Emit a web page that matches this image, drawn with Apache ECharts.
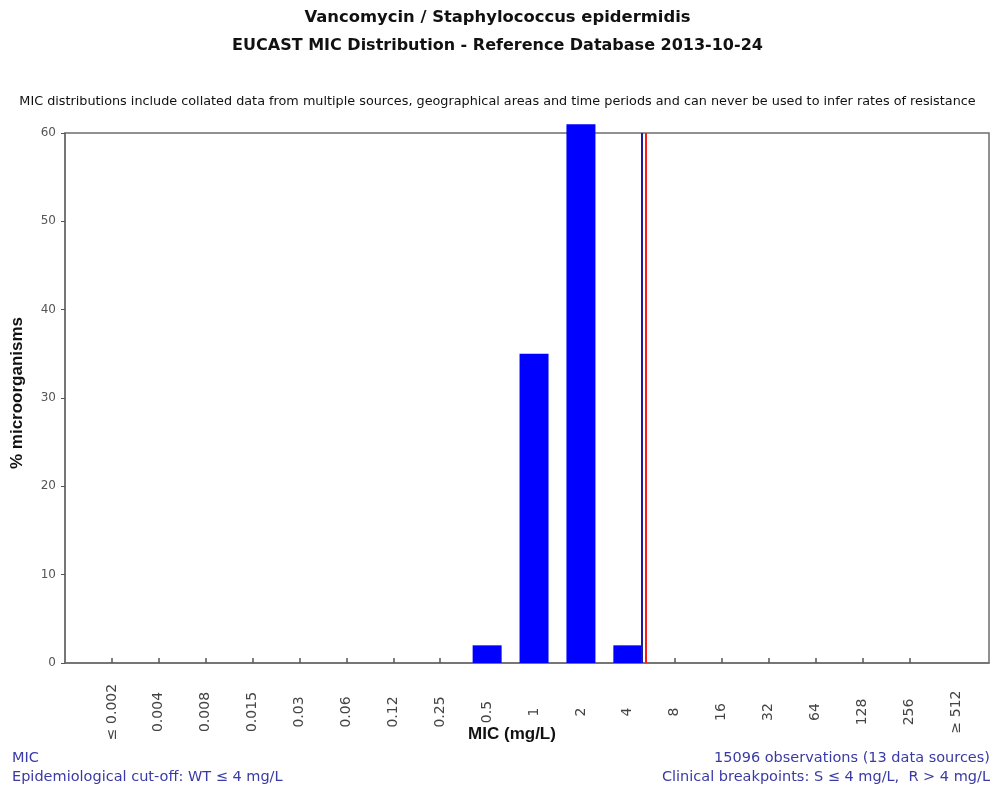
<!DOCTYPE html>
<html>
<head>
<meta charset="utf-8">
<title>Vancomycin / Staphylococcus epidermidis - MIC distribution</title>
<script src="https://cdn.jsdelivr.net/npm/echarts@6/dist/echarts.min.js"></script>
<style>
  html, body { margin: 0; padding: 0; background: #ffffff; }
  #chart { width: 995px; height: 789px; }
</style>
</head>
<body>
<div id="chart"></div>
<script>
// MIC dilution steps (mg/L)
const micLabels = ['≤ 0.002', '0.004', '0.008', '0.015', '0.03', '0.06', '0.12', '0.25', '0.5',
  '1', '2', '4', '8', '16', '32', '64', '128', '256', '≥ 512'];
// % of isolates at each MIC
const pctValues = [0, 0, 0, 0, 0, 0, 0, 0, 2, 35, 61, 2, 0, 0, 0, 0, 0, 0, 0];
// Y axis tick values
const yTicks = [0, 10, 20, 30, 40, 50, 60];
// Cut-off markers, expressed in MIC-step positions
const ecoffPos = 11.3;       // WT ≤ 4 mg/L
const breakpointPos = 11.39; // S ≤ 4 / R > 4 mg/L

const ARIAL = 'Arial, "Liberation Sans", sans-serif';
const WIDE = '"DejaVu Sans", Verdana, sans-serif';
const FOOT_COLOR = '#3a3aa6';
const chart = echarts.init(document.getElementById('chart'), null, { renderer: 'canvas' });

const barData = pctValues.map((v, i) => [i, v]);
const tickPositions = micLabels.slice(0, micLabels.length - 1).map((_, i) => i);
const labelPositions = micLabels.map((_, i) => i);

const footText = (text, pos) => Object.assign({
  text,
  padding: 0,
  textStyle: { fontFamily: WIDE, fontSize: 14.5, fontWeight: 'normal', color: FOOT_COLOR }
}, pos);

chart.setOption({
  backgroundColor: '#ffffff',
  animation: false,
  title: [
    { text: 'Vancomycin / Staphylococcus epidermidis', left: 'center', top: 10, padding: 0,
      textStyle: { fontFamily: WIDE, fontSize: 16.4, fontWeight: 'bold', color: '#111' } },
    { text: 'EUCAST MIC Distribution - Reference Database 2013-10-24', left: 'center', top: 38, padding: 0,
      textStyle: { fontFamily: WIDE, fontSize: 16, fontWeight: 'bold', color: '#111' } },
    { text: 'MIC distributions include collated data from multiple sources, geographical areas and time periods and can never be used to infer rates of resistance',
      left: 'center', top: 95, padding: 0,
      textStyle: { fontFamily: WIDE, fontSize: 12.8, fontWeight: 'normal', color: '#111' } },
    footText('MIC', { left: 12, top: 751 }),
    footText('Epidemiological cut-off: WT ≤ 4 mg/L', { left: 12, top: 770 }),
    footText('15096 observations (13 data sources)', { right: 5, top: 751 }),
    footText('Clinical breakpoints: S ≤ 4 mg/L,  R > 4 mg/L', { right: 5, top: 770 })
  ],
  grid: {
    left: 65, right: 6, top: 133, bottom: 126,
    outerBoundsMode: 'none',
    containLabel: false,
    show: true, borderColor: '#6e6e6e', borderWidth: 1.5, backgroundColor: '#ffffff'
  },
  xAxis: {
    type: 'value',
    min: -1, max: 18.7,
    interval: 1,
    name: 'MIC (mg/L)',
    nameLocation: 'middle',
    nameGap: 63,
    nameMoveOverlap: false,
    nameTextStyle: { fontFamily: ARIAL, fontSize: 17, fontWeight: 'bold', color: '#111', padding: [0, 30, 0, 0] },
    splitLine: { show: false },
    axisLine: { show: true, onZero: false, lineStyle: { color: '#6e6e6e', width: 1.5 } },
    axisTick: { show: true, inside: true, length: 5, customValues: tickPositions,
      lineStyle: { color: '#555', width: 1.5 } },
    axisLabel: {
      customValues: labelPositions,
      rotate: 90, margin: 49, align: 'center', verticalAlign: 'middle',
      fontFamily: WIDE, fontSize: 14, color: '#444',
      formatter: (v) => micLabels[Math.round(v)] ?? ''
    }
  },
  yAxis: {
    type: 'value',
    min: 0, max: yTicks[yTicks.length - 1],
    interval: yTicks[1] - yTicks[0],
    name: '% microorganisms',
    nameLocation: 'middle',
    nameGap: 39,
    nameMoveOverlap: false,
    nameTextStyle: { fontFamily: ARIAL, fontSize: 17, fontWeight: 'bold', color: '#111', padding: [0, 0, 0, 10] },
    splitLine: { show: false },
    axisLine: { show: true, onZero: false, lineStyle: { color: '#6e6e6e', width: 1.5 } },
    axisTick: { show: true, inside: false, length: 4, lineStyle: { color: '#555' } },
    axisLabel: { fontFamily: WIDE, fontSize: 12, color: '#555', margin: 9 }
  },
  series: [{
    type: 'bar',
    data: barData,
    barWidth: 29,
    clip: false,
    itemStyle: { color: '#0000ff', borderWidth: 0 },
    markLine: {
      silent: true,
      symbol: 'none',
      label: { show: false },
      data: [
        { xAxis: ecoffPos, lineStyle: { color: '#1c1c9c', width: 2, type: 'solid' } },
        { xAxis: breakpointPos, lineStyle: { color: '#ff1a1a', width: 2, type: 'solid' } }
      ]
    }
  }]
});
</script>
</body>
</html>
